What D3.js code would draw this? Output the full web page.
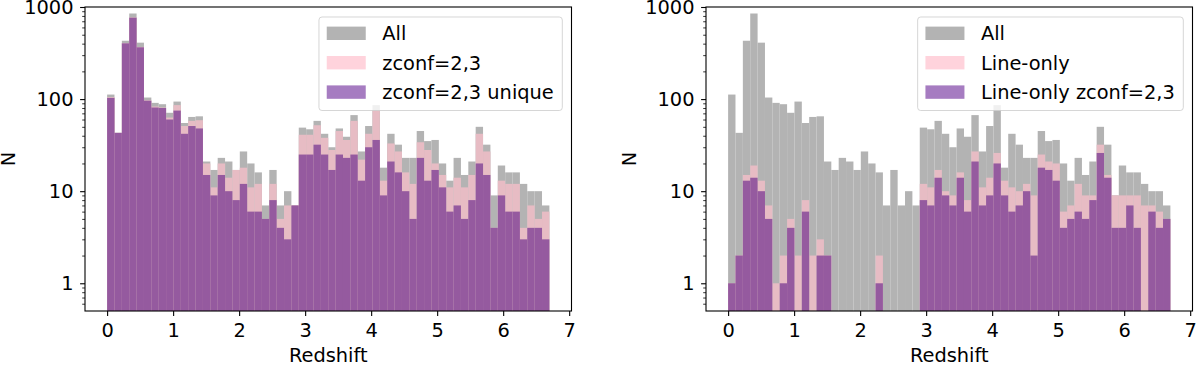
<!DOCTYPE html>
<html>
<head>
<meta charset="utf-8">
<script src="https://cdn.jsdelivr.net/npm/d3@7"></script>
<style>
  html, body { margin: 0; padding: 0; background: #fff; }
  svg { display: block; font-family: "DejaVu Sans", sans-serif; }
</style>
</head>
<body>
<div id="chart"></div>
<script>
// Redshift histograms, 60 bins between z=0 and z=6.7 (log y axis)
const zMin = 0;
const zMax = 6.7;
const nBins = 60;

// counts per bin
const allCounts = [112, 43, 430, 850, 410, 104, 91, 88, 71, 94,
  55, 64, 65, 21, 17, 23, 21, 17, 27, 20,
  16, 7, 17, 7, 10, 7, 49, 47, 58, 42,
  30, 48, 39, 67, 27, 51, 86, 18, 42, 32,
  23, 23, 45, 35, 36, 20, 13, 23, 15, 21,
  50, 32, 9, 19, 16, 16, 12, 10, 10, 7];

const zconfCounts = [105, 43, 405, 770, 368, 97, 83, 81, 63, 86,
  51, 58, 59, 20, 11, 20, 14, 17, 18, 11,
  12, 5, 12, 5, 7, 7, 41, 41, 52, 38,
  28, 45, 36, 58, 22, 42, 76, 13, 33, 27,
  16, 12, 34, 28, 20, 15, 11, 14, 11, 15,
  42, 27, 4, 13, 12, 12, 4, 7, 5, 6];

const zconfUniqueCounts = [103, 43, 403, 765, 365, 96, 81, 80, 60, 75,
  42, 51, 48, 15, 9, 15, 10, 8, 12, 6,
  6, 5, 8, 4, 3, 7, 25, 25, 32, 25,
  17, 25, 23, 25, 13, 30, 36, 9, 21, 16,
  10, 5, 23, 13, 17, 11, 6, 7, 5, 8,
  20, 15, 4, 9, 6, 6, 3, 4, 4, 3];

const lineOnlyCounts = [1, 2, 15, 19, 13, 7, 1, 2, 5, 2,
  8, 2, 3, 2, 0, 0, 0, 0, 0, 0,
  2, 0, 0, 0, 0, 0, 12, 11, 17, 10,
  9, 16, 8, 27, 11, 14, 26, 13, 11, 10,
  12, 9, 25, 21, 20, 6, 7, 12, 9, 9,
  32, 15, 9, 9, 9, 9, 7, 7, 6, 5];

const lineOnlyZconfCounts = [1, 2, 13, 14, 10, 5, 0, 1, 4, 0,
  6, 0, 2, 2, 0, 0, 0, 0, 0, 0,
  1, 0, 0, 0, 0, 0, 8, 7, 14, 9,
  7, 14, 6, 21, 7, 9, 20, 9, 6, 7,
  10, 2, 18, 17, 13, 4, 5, 6, 5, 8,
  26, 14, 4, 4, 7, 4, 0, 6, 4, 5];

const xTicks = [0, 1, 2, 3, 4, 5, 6, 7];
const yTicks = [1, 10, 100, 1000];
const yTickLabels = ['1', '10', '100', '1000'];

const leftLabels = ['All', 'zconf=2,3', 'zconf=2,3 unique'];
const rightLabels = ['All', 'Line-only', 'Line-only zconf=2,3'];

// colours: bar fill as seen on the plot, and the legend swatch
const barColors = ['#b3b3b3', '#e7bcc4', '#955a9f'];
const swatchColors = ['#b3b3b3', '#ffd3dc', '#a67cc1'];

const width = 1200;
const height = 365;
const fontSize = 19.4;
const plotW = 486.5;
const plotTop = 7;
const plotH = 304;

const binEdges = d3.range(nBins + 1).map(i => zMin + (zMax - zMin) * i / nBins);

const svg = d3.select('#chart')
  .append('svg')
  .attr('width', width)
  .attr('height', height);

function drawPanel(left, series, labels) {
  const g = svg.append('g')
    .attr('transform', `translate(${left},${plotTop})`);

  const x = d3.scaleLinear()
    .domain([-0.335, 7.035])
    .range([0, plotW]);

  const y = d3.scaleLog()
    .domain([0.5, 1000])
    .range([plotH, 0]);

  // histogram layers, drawn back to front
  series.forEach((counts, si) => {
    g.append('g')
      .selectAll('rect')
      .data(counts.map((v, i) => ({ v, x0: binEdges[i], x1: binEdges[i + 1] })).filter(d => d.v > 0))
      .enter()
      .append('rect')
      .attr('x', d => x(d.x0))
      .attr('width', d => x(d.x1) - x(d.x0))
      .attr('y', d => y(d.v))
      .attr('height', d => plotH - y(d.v))
      .style('fill', barColors[si]);
  });

  // x axis
  const xAxis = g.append('g')
    .attr('transform', `translate(0,${plotH})`)
    .call(d3.axisBottom(x).tickValues(xTicks).tickFormat(d3.format('d'))
      .tickSizeInner(4.9).tickSizeOuter(0).tickPadding(7));

  // y axis: minor ticks first, then majors with labels
  const minor = [];
  [0.1, 1, 10, 100].forEach(dec => {
    for (let m = 2; m <= 9; m++) {
      const v = dec * m;
      if (v > 0.5 && v < 1000) minor.push(v);
    }
  });
  g.append('g')
    .call(d3.axisLeft(y).tickValues(minor).tickFormat('').tickSizeInner(2.8).tickSizeOuter(0))
    .call(a => a.select('.domain').remove())
    .call(a => a.selectAll('line').attr('stroke-width', 0.8));

  const yAxis = g.append('g')
    .call(d3.axisLeft(y).tickValues(yTicks).tickFormat((d, i) => yTickLabels[i])
      .tickSizeInner(4.9).tickSizeOuter(0).tickPadding(6.6));

  [xAxis, yAxis].forEach(a => {
    a.selectAll('text')
      .style('font-size', fontSize + 'px')
      .style('font-family', '"DejaVu Sans", sans-serif')
      .style('fill', '#000');
    a.selectAll('line').attr('stroke-width', 1.1);
    a.select('.domain').remove();
  });

  // frame
  g.append('rect')
    .attr('x', 0)
    .attr('y', 0)
    .attr('width', plotW)
    .attr('height', plotH)
    .style('fill', 'none')
    .style('stroke', '#000')
    .style('stroke-width', 1.1);

  // axis labels
  g.append('text')
    .attr('x', plotW / 2)
    .attr('y', 361.5 - plotTop)
    .attr('text-anchor', 'middle')
    .style('font-size', fontSize + 'px')
    .text('Redshift');

  g.append('text')
    .attr('transform', `translate(${-70},${plotH / 2}) rotate(-90)`)
    .attr('text-anchor', 'middle')
    .style('font-size', fontSize + 'px')
    .text('N');

  // legend (upper right, semi-transparent frame)
  const leg = g.append('g');
  const legTop = 10;
  const rowGap = 29.4;
  const box = leg.append('rect')
    .attr('y', legTop)
    .attr('height', 93.5)
    .attr('rx', 3)
    .style('fill', '#fff')
    .style('fill-opacity', 0.8)
    .style('stroke', '#cccccc')
    .style('stroke-opacity', 0.8)
    .style('stroke-width', 1);

  const texts = [];
  labels.forEach((lab, i) => {
    const cy = legTop + 16.3 + i * rowGap;
    leg.append('rect')
      .attr('x', 7.8)
      .attr('y', cy - 6.7)
      .attr('width', 39)
      .attr('height', 13.4)
      .style('fill', swatchColors[i]);
    texts.push(leg.append('text')
      .attr('x', 63.3)
      .attr('y', cy + 7)
      .style('font-size', fontSize + 'px')
      .text(lab));
  });
  const textW = d3.max(texts, t => t.node().getComputedTextLength());
  const boxW = 63.3 + textW + 8.5;
  box.attr('width', boxW);
  leg.attr('transform', `translate(${plotW - 9.2 - boxW},0)`);
}

drawPanel(85, [allCounts, zconfCounts, zconfUniqueCounts], leftLabels);
drawPanel(706, [allCounts, lineOnlyCounts, lineOnlyZconfCounts], rightLabels);
</script>
</body>
</html>
